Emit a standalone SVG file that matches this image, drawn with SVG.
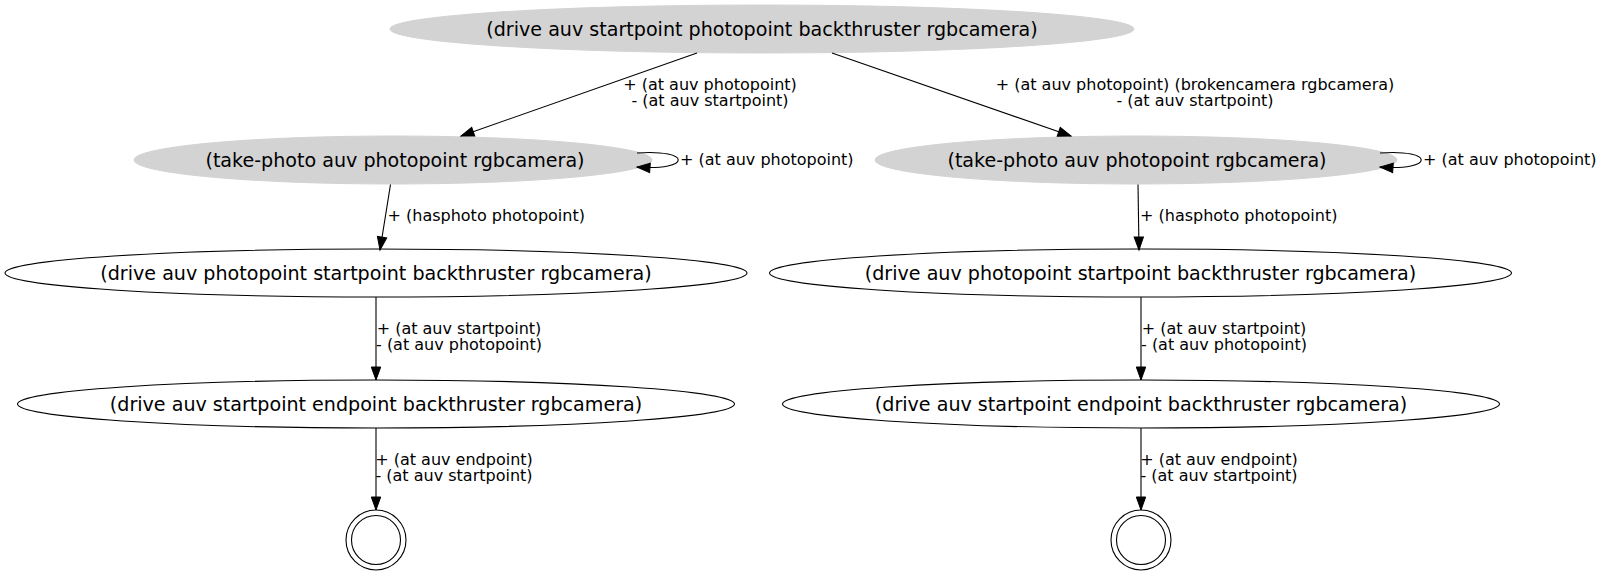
<svg xmlns="http://www.w3.org/2000/svg" width="1599" height="575" viewBox="0 0 1599 575">
<style>
.n text{font-family:"DejaVu Sans",sans-serif;font-size:19.1px;text-anchor:middle;fill:#000}
.g ellipse{fill:#d3d3d3;stroke:#d3d3d3}
.w ellipse{fill:#fff;stroke:#000;stroke-width:1.1}
.f circle{fill:none;stroke:#000;stroke-width:1.1}
.e path{fill:none;stroke:#000;stroke-width:1.1}
.e text{font-family:"DejaVu Sans",sans-serif;font-size:16px;fill:#000}
.m{text-anchor:middle}
</style>
<defs>
<marker id="ah" viewBox="0 0 13 9.4" refX="13" refY="4.7" markerWidth="13" markerHeight="9.4" markerUnits="userSpaceOnUse" orient="auto" overflow="visible">
<path d="M0,0 L13,4.7 L0,9.4 Z" fill="#000" stroke="#000" stroke-width="1"/>
</marker>
</defs>
<rect width="1599" height="575" fill="#fff"/>
<g id="n0" class="n g"><ellipse cx="762" cy="29" rx="372" ry="24"/><text x="762" y="35.5">(drive auv startpoint photopoint backthruster rgbcamera)</text></g>
<g id="n1" class="n g"><ellipse cx="393" cy="160" rx="259" ry="24"/><text x="395" y="166.5">(take-photo auv photopoint rgbcamera)</text></g>
<g id="n2" class="n g"><ellipse cx="1136" cy="160" rx="261" ry="24"/><text x="1137" y="166.5">(take-photo auv photopoint rgbcamera)</text></g>
<g id="n3" class="n w"><ellipse cx="376" cy="273" rx="371" ry="24"/><text x="376" y="279.5">(drive auv photopoint startpoint backthruster rgbcamera)</text></g>
<g id="n4" class="n w"><ellipse cx="1140.5" cy="273" rx="371" ry="24"/><text x="1140.5" y="279.5">(drive auv photopoint startpoint backthruster rgbcamera)</text></g>
<g id="n5" class="n w"><ellipse cx="376" cy="404" rx="358.5" ry="24"/><text x="376" y="410.5">(drive auv startpoint endpoint backthruster rgbcamera)</text></g>
<g id="n6" class="n w"><ellipse cx="1141" cy="404" rx="358.5" ry="24"/><text x="1141" y="410.5">(drive auv startpoint endpoint backthruster rgbcamera)</text></g>
<g id="n7" class="n f"><circle cx="376" cy="540" r="30"/><circle cx="376" cy="540" r="24.5"/></g>
<g id="n8" class="n f"><circle cx="1141" cy="540" r="30"/><circle cx="1141" cy="540" r="24.5"/></g>
<g id="edges" class="e">
<path d="M697,53 L461,136" marker-end="url(#ah)"/>
<text class="m" x="710" y="90">+ (at auv photopoint)</text>
<text class="m" x="710" y="106">- (at auv startpoint)</text>
<path d="M832,53 L1071,136" marker-end="url(#ah)"/>
<text class="m" x="1195" y="90">+ (at auv photopoint) (brokencamera rgbcamera)</text>
<text class="m" x="1195" y="106">- (at auv startpoint)</text>
<path d="M637,153 C692,149 692,171 637,167" marker-end="url(#ah)"/>
<text x="680" y="165">+ (at auv photopoint)</text>
<path d="M1380,153 C1435,149 1435,171 1380,167" marker-end="url(#ah)"/>
<text x="1423" y="165">+ (at auv photopoint)</text>
<path d="M390.5,184.5 L380,250" marker-end="url(#ah)"/>
<text x="387.5" y="221">+ (hasphoto photopoint)</text>
<path d="M1138,184.5 L1139,250" marker-end="url(#ah)"/>
<text x="1140" y="221">+ (hasphoto photopoint)</text>
<path d="M376,297 L376,380" marker-end="url(#ah)"/>
<text class="m" x="459" y="334">+ (at auv startpoint)</text>
<text class="m" x="459" y="350">- (at auv photopoint)</text>
<path d="M1141,297 L1141,380" marker-end="url(#ah)"/>
<text class="m" x="1224" y="334">+ (at auv startpoint)</text>
<text class="m" x="1224" y="350">- (at auv photopoint)</text>
<path d="M376,428 L376,510" marker-end="url(#ah)"/>
<text class="m" x="454" y="465">+ (at auv endpoint)</text>
<text class="m" x="454" y="481">- (at auv startpoint)</text>
<path d="M1141,428 L1141,510" marker-end="url(#ah)"/>
<text class="m" x="1219" y="465">+ (at auv endpoint)</text>
<text class="m" x="1219" y="481">- (at auv startpoint)</text>
</g>
</svg>
